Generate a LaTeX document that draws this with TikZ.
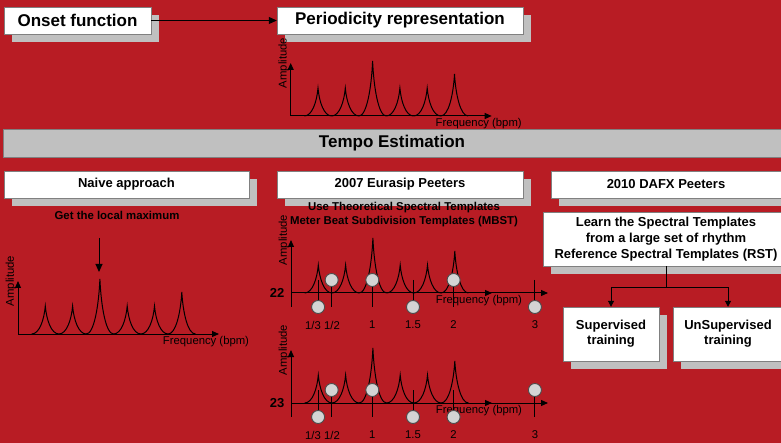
\documentclass[tikz,border=0pt]{standalone}
\usepackage{fontspec}
\setmainfont{Liberation Sans}
\usepackage{tikz}
\usetikzlibrary{shapes, arrows.meta, positioning, shadows}
\definecolor{slidered}{RGB}{184,28,36}
\definecolor{shadowgray}{RGB}{192,192,192}
\definecolor{edgegray}{RGB}{128,128,128}
\definecolor{markgray}{RGB}{212,212,212}
\tikzset{
    block/.style={rectangle, draw=edgegray, fill=white, align=center, inner sep=0pt, font=\fontsize{13}{15}\selectfont\bfseries, drop shadow={shadow xshift=8pt, shadow yshift=-8pt, fill=shadowgray, opacity=1}},
    headbox/.style={block, minimum height=27pt, font=\fontsize{17}{20}\selectfont\bfseries},
    subhead/.style={block, minimum height=27pt},
    banner/.style={rectangle, draw=edgegray, fill=shadowgray, inner sep=0pt, minimum height=28pt, font=\fontsize{17}{20}\selectfont\bfseries},
    remark/.style={align=center, inner sep=0pt, font=\fontsize{11.4}{14}\selectfont\bfseries},
    axislabel/.style={inner sep=0pt, font=\fontsize{11.3}{13}\selectfont},
    tmark/.style={circle, draw=black!70, fill=markgray, line width=0.9pt, minimum size=13pt, inner sep=0pt},
    arrow/.style={line width=1pt, -{Triangle[length=8pt, width=7pt]}},
    branch/.style={line width=1pt, -{Triangle[length=6pt, width=6pt]}},
    axisline/.style={line width=1pt, -{Triangle[length=7pt, width=6pt]}},
    peakline/.style={line width=1pt},
    % spectrum with its two axes, origin at the axes' corner
    pics/spectrum/.style={code={
        \draw[axisline] (0,0) -- (0,-53);
        \draw[axisline] (0,0) -- (201,0);
        \foreach \p/\h in {27.3/28, 54.6/28, 81.9/55, 109.2/28, 136.5/28, 163.8/42}
            \draw[peakline] ({\p-13.65},0) .. controls ({\p-6},0) and ({\p-1.2},{-0.5*\h}) .. (\p,-\h)
                .. controls ({\p+1.2},{-0.5*\h}) and ({\p+6},0) .. ({\p+13.65},0);
        \node[axislabel, rotate=90] (-amp) at (-7,-53) {Amplitude};
        \node[axislabel] (-freq) at (188,8) {Frequency (bpm)};
    }},
    % template axis with its ticks
    pics/template/.style={code={
        \draw[axisline] (0,0) -- (257,0);
        \draw[peakline] (0,0) -- (0,14);
        \foreach \t in {27.1, 40.65, 81.3, 122, 162.6, 243.9}
            \draw[peakline] (\t,-13) -- (\t,14);
        \foreach \t/\lab [count=\i] in {22/{1/3}, 41/{1/2}, 81.3/1, 122/1.5, 162.6/2, 243.9/3}
            \node[axislabel] (-tick\i) at (\t,32) {\lab};
    }}
}

\begin{document}
\begin{tikzpicture}[x=1pt, y=-1pt]
    \useasboundingbox (0,0) rectangle (781,443);
    \fill[slidered] (0,0) rectangle (781,443);

    % Top row
    \node (Onset) [headbox, minimum width=147pt] at (77.5,20.5) {Onset function};
    \node (Period) [headbox, minimum width=246pt] at (400,20.5) {Periodicity representation};
    \draw[arrow] (Onset.east) -- (Period.west);
    \pic (per) at (290.7,116) {spectrum};

    % Tempo bar
    \node (Tempo) [banner, minimum width=778pt] at (392,143) {Tempo Estimation};

    % Naive approach
    \node (Naive) [subhead, minimum width=245pt] at (126.5,184.5) {Naive approach};
    \node (LocalMax) [remark] at (117,215) {Get the local maximum};
    \coordinate (MaxTop) at (99,238);
    \coordinate (MaxTip) at (99,272);
    \draw[arrow] (MaxTop) -- (MaxTip);
    \pic (naive) at (18,334) {spectrum};

    % 2007 Eurasip Peeters
    \node (Eurasip) [subhead, minimum width=246pt] at (400,184.5) {2007 Eurasip Peeters};
    \node (MBST) [remark] at (404,215) {Use Theoretical Spectral Templates\\Meter Beat Subdivision Templates (MBST)};
    \pic (sp22) at (291,293) {template};
    \pic (tp22) at (291,293) {spectrum};
    \node (Lab22) [remark, font=\fontsize{13}{15}\selectfont\bfseries] at (277,293) {22};
    \foreach \t/\s [count=\i] in {27.1/14, 40.65/-13, 81.3/-13, 122/14, 162.6/-13, 243.9/14}
        \node[tmark] (mark22-\i) at ({291+\t},{293+\s}) {};
    \pic (sp23) at (291,403) {template};
    \pic (tp23) at (291,403) {spectrum};
    \node (Lab23) [remark, font=\fontsize{13}{15}\selectfont\bfseries] at (277,403) {23};
    \foreach \t/\s [count=\i] in {27.1/14, 40.65/-13, 81.3/-13, 122/14, 162.6/14, 243.9/-13}
        \node[tmark] (mark23-\i) at ({291+\t},{403+\s}) {};

    % 2010 DAFX Peeters
    \node (Dafx) [subhead, minimum width=230pt] at (666,184.5) {2010 DAFX Peeters};
    \node (Learn) [block, minimum width=246pt, minimum height=54pt, font=\fontsize{13}{16}\selectfont\bfseries] at (666,239) {Learn the Spectral Templates\\from a large set of rhythm\\Reference Spectral Templates (RST)};
    \node (Sup) [block, minimum width=96pt, minimum height=54pt] at (611,334) {Supervised\\training};
    \node (UnSup) [block, minimum width=110pt, minimum height=54pt] at (728,334) {UnSupervised\\training};
    \draw[peakline] (Learn.south) -- ++(0,21) coordinate (Split);
    \draw[branch] (Split) -| (Sup.north);
    \draw[branch] (Split) -| (UnSup.north);
\end{tikzpicture}
\end{document}
